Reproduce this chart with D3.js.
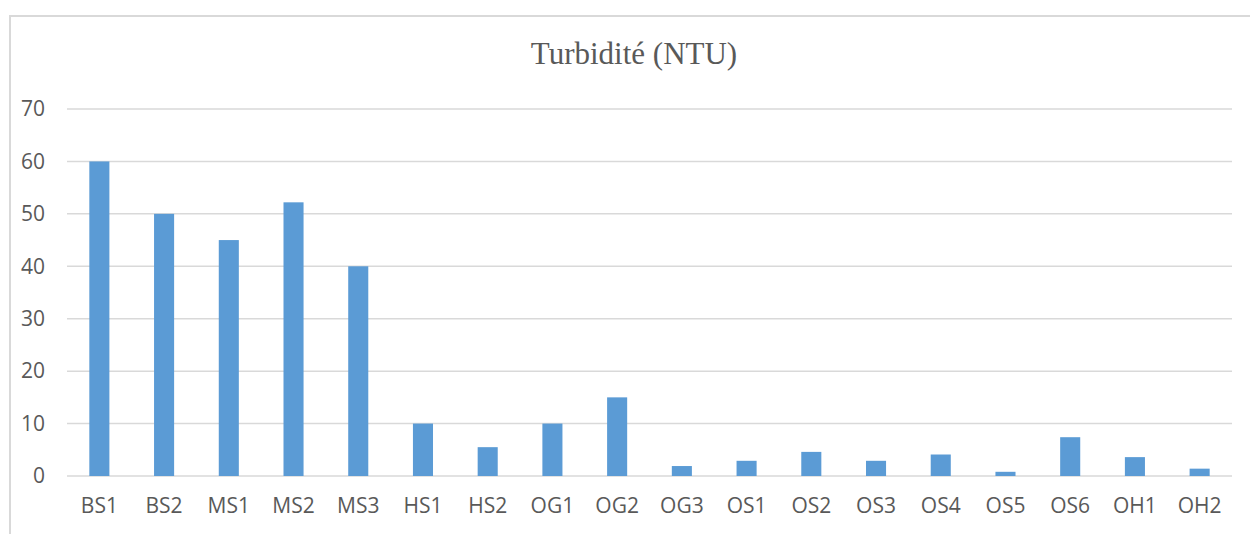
<!DOCTYPE html>
<html>
<head>
<meta charset="utf-8">
<script src="https://cdn.jsdelivr.net/npm/d3@7"></script>
<style>
  body { margin: 0; background: #fff; }
  svg { display: block; }
</style>
</head>
<body>
<div id="chart"></div>
<script>
// stations and turbidity readings (NTU)
const stations = ["BS1", "BS2", "MS1", "MS2", "MS3", "HS1", "HS2", "OG1", "OG2",
  "OG3", "OS1", "OS2", "OS3", "OS4", "OS5", "OS6", "OH1", "OH2"];
const turbidity = [60, 50, 45, 52.2, 40, 10, 5.5, 10, 15,
  1.9, 2.9, 4.6, 2.9, 4.1, 0.8, 7.4, 3.6, 1.4];
const yTicks = [0, 10, 20, 30, 40, 50, 60, 70];

const W = 1250, H = 534;
const margin = { top: 109, right: 18, bottom: 58, left: 67 };
const width = W - margin.left - margin.right;
const height = H - margin.top - margin.bottom;

const svg = d3.select("#chart").append("svg")
  .attr("width", W)
  .attr("height", H);

// chart frame (only top and left edges visible in the crop)
svg.append("path")
  .attr("d", `M10,${H} L10,16 L${W},16`)
  .attr("fill", "none")
  .attr("stroke", "#d9d9d9")
  .attr("stroke-width", 2);

svg.append("text")
  .attr("x", 634)
  .attr("y", 64)
  .attr("text-anchor", "middle")
  .style("font-family", "'Liberation Serif', 'Times New Roman', serif")
  .style("font-size", "31px")
  .style("fill", "#595959")
  .text("Turbidité (NTU)");

const g = svg.append("g")
  .attr("transform", `translate(${margin.left},${margin.top})`);

const x = d3.scaleBand()
  .domain(stations)
  .range([0, width])
  .paddingInner(0.69)
  .paddingOuter(0.345);

const y = d3.scaleLinear()
  .domain([0, 70])
  .range([height, 0]);

// gridlines
g.append("g")
  .selectAll("line")
  .data(yTicks)
  .join("line")
  .attr("x1", 0)
  .attr("x2", width)
  .attr("y1", d => y(d))
  .attr("y2", d => y(d))
  .attr("stroke", "#d9d9d9")
  .attr("stroke-width", 1.5);

// y axis labels
const yAxis = g.append("g")
  .call(d3.axisLeft(y).tickValues(yTicks).tickSize(0).tickPadding(22));
yAxis.select(".domain").remove();
yAxis.selectAll("text")
  .style("font-family", "'Open Sans', sans-serif")
  .style("font-size", "21px")
  .attr("fill", "#595959");

// bars
g.selectAll(".bar")
  .data(stations)
  .join("rect")
  .attr("class", "bar")
  .attr("x", d => x(d))
  .attr("width", x.bandwidth())
  .attr("y", (d, i) => y(turbidity[i]))
  .attr("height", (d, i) => height - y(turbidity[i]))
  .attr("fill", "#5b9bd5");

// x axis labels
const xAxis = g.append("g")
  .attr("transform", `translate(0,${height})`)
  .call(d3.axisBottom(x).tickSize(0).tickPadding(22));
xAxis.select(".domain").remove();
xAxis.selectAll("text")
  .style("font-family", "'Open Sans', sans-serif")
  .style("font-size", "21px")
  .attr("fill", "#595959");
</script>
</body>
</html>
